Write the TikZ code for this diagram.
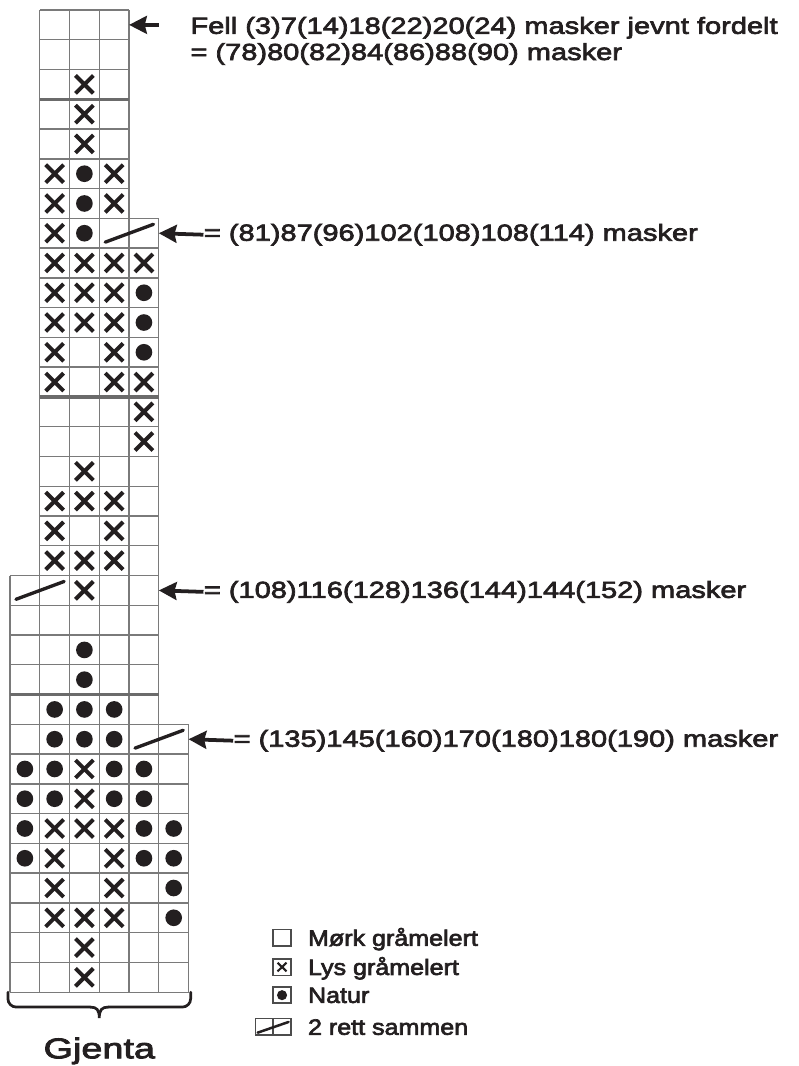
\documentclass[tikz,border=0pt]{standalone}
\usepackage{fontspec}
\setmainfont{Liberation Sans}
\newfontfamily\labelfont{Liberation Sans}[FakeStretch=1.25, FakeBold=3]
\newfontfamily\keyfont{Liberation Sans}[FakeStretch=1.13, FakeBold=3]
\newfontfamily\repfont{Liberation Sans}[FakeStretch=1.33, FakeBold=3]
\usetikzlibrary{arrows.meta}
\definecolor{ink}{HTML}{231F20}
\definecolor{gridgray}{HTML}{7A7A7A}

\begin{document}
\begin{tikzpicture}[x=5mm, y=-5mm, >={Stealth[length=8.5pt,width=8.5pt,inset=1pt]},
	every node/.style={text=ink, inner sep=0pt},
	lbl/.style={font=\labelfont\fontsize{11.1}{12.4}\selectfont, anchor=west},
	keylbl/.style={font=\keyfont\fontsize{10.6}{12}\selectfont, anchor=base west},
	chartgrid/.style={draw=gridgray, line width=0.65pt, step=5mm},
	sep/.style={draw=black!58, line width=1.7pt},
	cross/.style={draw=ink, line width=1.9pt},
	dec/.style={draw=ink, line width=1.6pt, line cap=round},
	keybox/.style={draw=black!70, line width=0.7pt},
	pointer/.style={->, draw=ink, line width=1.8pt}]
	\useasboundingbox (-0.336,-0.336) rectangle (26.48,35.48);
	% chart
	\draw[chartgrid] (1,7) grid (4,0);
	\draw[chartgrid] (1,19) grid (5,7);
	\draw[chartgrid] (0,24) grid (5,19);
	\draw[chartgrid] (0,33) grid (6,24);
	\draw[sep] (1,3) -- (4,3);
	\draw[sep] (1,13) -- (5,13);
	\draw[sep] (0,23) -- (5,23);
	\foreach \c/\r in {2/2,2/3,2/4,1/5,3/5,1/6,3/6,1/7,1/8,2/8,3/8,4/8,1/9,2/9,3/9,1/10,2/10,3/10,
		1/11,3/11,1/12,3/12,4/12,4/13,4/14,2/15,1/16,2/16,3/16,1/17,3/17,1/18,2/18,3/18,2/19,
		2/25,2/26,1/27,2/27,3/27,1/28,3/28,1/29,3/29,1/30,2/30,3/30,2/31,2/32}
		\draw[cross] (\c+0.2,\r+0.2) -- (\c+0.8,\r+0.8) (\c+0.2,\r+0.8) -- (\c+0.8,\r+0.2);
	\foreach \c/\r in {2/5,2/6,2/7,4/9,4/10,4/11,2/21,2/22,1/23,2/23,3/23,1/24,2/24,3/24,
		0/25,1/25,3/25,4/25,0/26,1/26,3/26,4/26,0/27,4/27,5/27,0/28,4/28,5/28,5/29,5/30}
		\fill[ink] (\c+0.5,\r+0.5) circle (1.4mm);
	\foreach \c/\r in {3/7,0/19,4/24}
		\draw[dec] (\c+0.2,\r+0.8) -- (\c+1.82,\r+0.2);
	% decreases
	\coordinate (r0) at (4,0.5);
	\coordinate (a0) at (5,0.5);
	\node (fell) [lbl, anchor=base west] at (6.05,0.8) {Fell (3)7(14)18(22)20(24) masker jevnt fordelt};
	\node (fellsum) [lbl, anchor=base west] at (6.05,1.68) {= (78)80(82)84(86)88(90) masker};
	\draw[pointer] (a0) -- (r0);
	\coordinate (r7) at (5,7.5);
	\node (t7) [lbl] at (6.5,7.55) {= (81)87(96)102(108)108(114) masker};
	\draw[pointer] (t7.west) -- (r7);
	\coordinate (r19) at (5,19.5);
	\node (t19) [lbl] at (6.5,19.55) {= (108)116(128)136(144)144(152) masker};
	\draw[pointer] (t19.west) -- (r19);
	\coordinate (r24) at (6,24.5);
	\node (t24) [lbl] at (7.5,24.55) {= (135)145(160)170(180)180(190) masker};
	\draw[pointer] (t24.west) -- (r24);
	% repeat
	\draw[ink, line width=1.3pt, line cap=round, rounded corners=4pt] (-0.07,33) -- (-0.07,33.5) -- (2.7,33.5);
	\draw[ink, line width=1.3pt, line cap=round, rounded corners=4pt] (6.07,33) -- (6.07,33.5) -- (3.3,33.5);
	\draw[ink, line width=1.3pt, line cap=round] (2.7,33.5) .. controls (2.92,33.5) and (3,33.6) .. (3,33.87)
		.. controls (3,33.6) and (3.08,33.5) .. (3.3,33.5);
	\node (rep) [font=\repfont\fontsize{13.6}{16}\selectfont, anchor=base] at (3,35.22) {Gjenta};
	% key
	\draw[keybox] (8.84,30.9) rectangle ++(0.6,0.55);
	\node (k1) [keylbl] at (10,31.44) {Mørk gråmelert};
	\draw[keybox] (8.84,31.88) rectangle ++(0.6,0.55);
	\draw[ink, line width=1pt] (8.99,32.01) -- (9.29,32.3) (8.99,32.3) -- (9.29,32.01);
	\node (k2) [keylbl] at (10,32.42) {Lys gråmelert};
	\draw[keybox] (8.84,32.82) rectangle ++(0.6,0.55);
	\fill[ink] (9.14,33.1) circle (0.85mm);
	\node (k3) [keylbl] at (10,33.36) {Natur};
	\draw[keybox] (8.24,33.89) rectangle ++(1.2,0.55) (8.84,33.89) -- ++(0,0.55);
	\draw[ink, line width=1.2pt, line cap=round] (8.32,34.36) -- (9.36,34.0);
	\node (k4) [keylbl] at (10,34.43) {2 rett sammen};
\end{tikzpicture}
\end{document}
